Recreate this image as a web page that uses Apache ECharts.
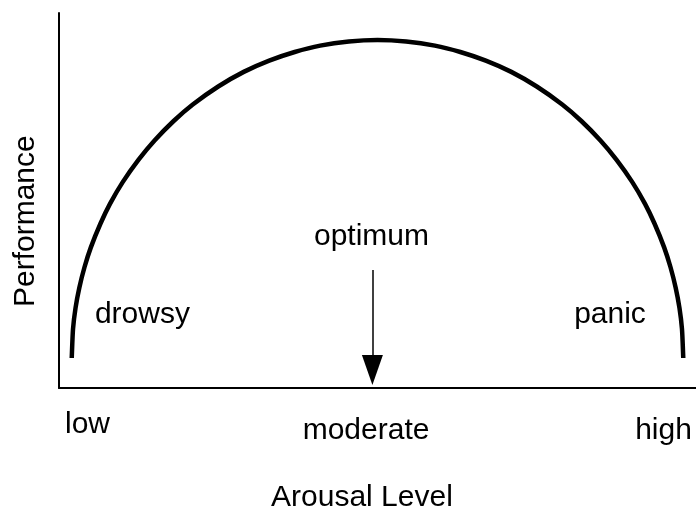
<!DOCTYPE html>
<html>
<head>
<meta charset="utf-8">
<script src="https://cdn.jsdelivr.net/npm/echarts@6/dist/echarts.min.js"></script>
<style>
  html, body { margin: 0; padding: 0; background: #fff; }
  #chart { width: 696px; height: 510px; }
</style>
</head>
<body>
<div id="chart"></div>
<script>
// Arousal (x, 0-100) and performance (y, 0-100)
var arousal = [2, 2.2, 2.6, 3.2, 4, 5, 6.5, 8, 10, 12.5, 15, 18, 21, 25, 29, 33, 37, 41, 45.5, 50,
               54.5, 59, 63, 67, 71, 75, 79, 82, 85, 87.5, 90, 92, 93.5, 95, 96, 96.8, 97.4, 97.8, 98];
var performance = [8.0, 15.7, 21.4, 26.8, 32.2, 37.5, 43.8, 49.1, 54.9, 60.9, 66.0, 71.2, 75.6, 80.4, 84.3, 87.3, 89.6, 91.3, 92.4, 92.8,
                   92.4, 91.3, 89.6, 87.3, 84.3, 80.4, 75.6, 71.2, 66.0, 60.9, 54.9, 49.1, 43.8, 37.5, 32.2, 26.8, 21.4, 15.7, 8.0];

// Optimum arrow (x position, top of stem, centre of head)
var arrowX = 49.2;
var arrowTop = 31.5;
var arrowHead = 4.8;

// Tick labels on the arousal axis
var tickLabels = ['low', 'moderate', 'high'];
var tickX = [4.47, 48.2, 94.9];
var tickY = [-9.7, -11.5, -11.5];

// Zone annotations
var zoneLabels = ['drowsy', 'optimum', 'panic'];
var zoneX = [13.1, 49.06, 86.5];
var zoneY = [19.5, 40.4, 19.5];

// Axis titles
var xTitle = 'Arousal Level';
var yTitle = 'Performance';

var curve = arousal.map(function (x, i) { return [x, performance[i]]; });

var texts = [];
tickLabels.forEach(function (t, i) { texts.push({ name: t, value: [tickX[i], tickY[i]] }); });
zoneLabels.forEach(function (t, i) { texts.push({ name: t, value: [zoneX[i], zoneY[i]] }); });
texts.push({ name: xTitle, value: [47.56, -29.3] });
texts.push({ name: yTitle, value: [-5.3, 44.5], label: { rotate: 90 } });

var FONT = '"Liberation Sans", Arial, Helvetica, sans-serif';

var chart = echarts.init(document.getElementById('chart'), null, { renderer: 'canvas' });
chart.setOption({
  animation: false,
  backgroundColor: '#ffffff',
  grid: { left: 59, right: 0, top: 13, bottom: 122, containLabel: false },
  xAxis: {
    type: 'value', min: 0, max: 100,
    axisLine: { show: true, lineStyle: { color: '#000', width: 2 } },
    axisTick: { show: false }, axisLabel: { show: false }, splitLine: { show: false }
  },
  yAxis: {
    type: 'value', min: 0, max: 100,
    axisLine: { show: true, lineStyle: { color: '#000', width: 2 } },
    axisTick: { show: false }, axisLabel: { show: false }, splitLine: { show: false }
  },
  series: [
    {
      type: 'line',
      data: curve,
      showSymbol: false,
      smooth: 0.2,
      silent: true,
      lineStyle: { color: '#000', width: 4.5, cap: 'butt', join: 'round' },
      markLine: {
        silent: true,
        symbol: ['none', 'triangle'],
        symbolSize: [21, 30],
        label: { show: false },
        lineStyle: { color: '#000', width: 1.5, type: 'solid' },
        itemStyle: { color: '#000' },
        data: [[{ coord: [arrowX, arrowTop] }, { coord: [arrowX, arrowHead] }]]
      }
    },
    {
      type: 'scatter',
      data: texts,
      symbolSize: 1,
      clip: false,
      silent: true,
      itemStyle: { color: 'rgba(0,0,0,0)' },
      label: {
        show: true,
        position: 'inside',
        formatter: '{b}',
        color: '#000000',
        opacity: 1,
        textBorderWidth: 0,
        textBorderColor: 'transparent',
        fontSize: 30,
        fontFamily: FONT
      }
    }
  ]
});
</script>
</body>
</html>
